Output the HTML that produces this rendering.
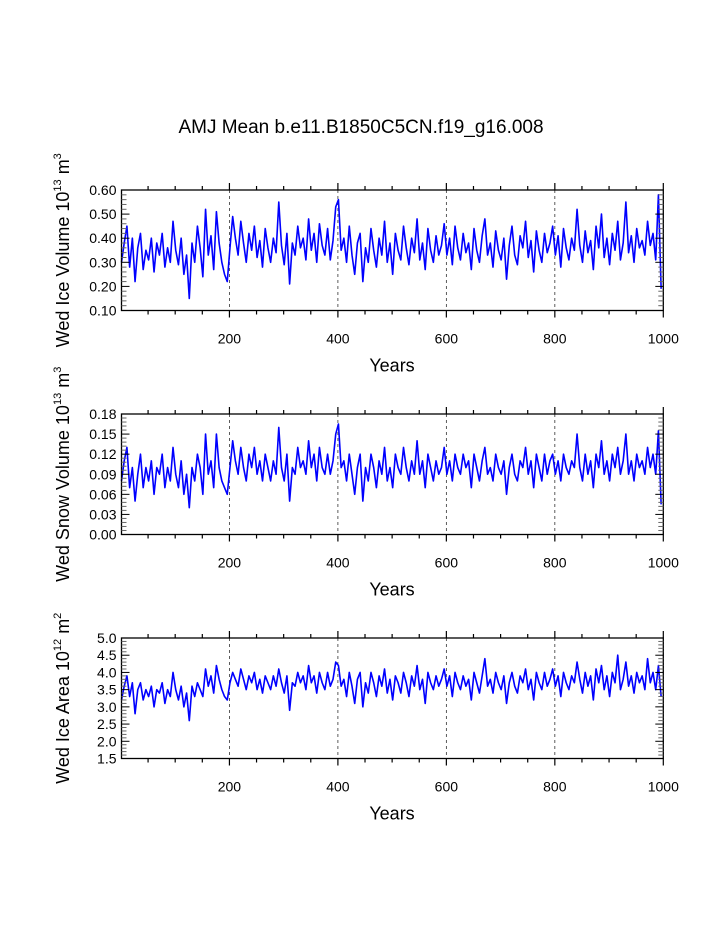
<!DOCTYPE html>
<html><head><meta charset="utf-8"><style>
html,body{margin:0;padding:0;background:#fff;}
svg{display:block;font-family:"Liberation Sans",Arial,sans-serif;}
</style></head><body>
<svg id="chart" width="723" height="935" viewBox="0 0 723 935" xmlns="http://www.w3.org/2000/svg">
<text x="361" y="133" font-size="19" text-anchor="middle">AMJ Mean b.e11.B1850C5CN.f19_g16.008</text>
</svg>
<script>
const iceVolume=[0.30,0.38,0.45,0.28,0.40,0.22,0.36,0.42,0.27,0.35,0.31,0.40,0.26,0.38,0.33,0.42,0.28,0.36,0.30,0.47,0.35,0.29,0.40,0.25,0.33,0.15,0.38,0.30,0.45,0.36,0.24,0.52,0.33,0.41,0.27,0.51,0.38,0.30,0.25,0.22,
0.36,0.49,0.40,0.33,0.47,0.38,0.30,0.42,0.35,0.45,0.32,0.39,0.28,0.44,0.36,0.30,0.40,0.34,0.55,0.37,0.29,0.42,0.21,0.38,0.33,0.45,0.36,0.40,0.31,0.48,0.35,0.42,0.30,0.46,0.37,0.33,0.44,0.31,0.39,0.53,
0.56,0.35,0.40,0.30,0.45,0.33,0.25,0.38,0.42,0.22,0.36,0.30,0.44,0.35,0.28,0.40,0.33,0.47,0.30,0.38,0.25,0.42,0.35,0.31,0.45,0.36,0.29,0.40,0.34,0.48,0.31,0.38,0.27,0.44,0.35,0.30,0.41,0.33,0.37,0.46,
0.33,0.40,0.29,0.45,0.36,0.31,0.42,0.34,0.38,0.27,0.44,0.35,0.30,0.41,0.48,0.33,0.38,0.28,0.43,0.35,0.31,0.40,0.23,0.37,0.45,0.33,0.29,0.41,0.36,0.47,0.32,0.39,0.26,0.43,0.35,0.30,0.42,0.34,0.38,0.45,
0.33,0.41,0.28,0.44,0.36,0.31,0.40,0.35,0.52,0.37,0.30,0.43,0.34,0.39,0.27,0.45,0.36,0.50,0.32,0.40,0.29,0.42,0.35,0.47,0.31,0.38,0.55,0.34,0.41,0.30,0.44,0.36,0.39,0.33,0.47,0.37,0.42,0.31,0.58,0.19];
const snowVolume=[0.08,0.11,0.13,0.07,0.10,0.05,0.09,0.12,0.07,0.10,0.08,0.11,0.06,0.10,0.09,0.12,0.07,0.10,0.08,0.13,0.09,0.07,0.11,0.06,0.09,0.04,0.10,0.08,0.12,0.10,0.06,0.15,0.09,0.11,0.07,0.15,0.10,0.08,0.07,0.06,
0.10,0.14,0.11,0.09,0.13,0.10,0.08,0.12,0.10,0.13,0.09,0.11,0.08,0.12,0.10,0.08,0.11,0.09,0.16,0.10,0.08,0.12,0.05,0.10,0.09,0.13,0.10,0.11,0.09,0.14,0.10,0.12,0.08,0.13,0.10,0.09,0.12,0.09,0.11,0.15,
0.165,0.10,0.11,0.08,0.12,0.09,0.06,0.10,0.12,0.05,0.10,0.08,0.12,0.10,0.07,0.11,0.09,0.13,0.08,0.10,0.07,0.12,0.10,0.09,0.13,0.10,0.08,0.11,0.09,0.14,0.09,0.11,0.07,0.12,0.10,0.08,0.11,0.09,0.10,0.13,
0.09,0.11,0.08,0.12,0.10,0.09,0.12,0.10,0.11,0.07,0.12,0.10,0.08,0.11,0.13,0.09,0.10,0.08,0.12,0.10,0.09,0.11,0.06,0.10,0.12,0.09,0.08,0.11,0.10,0.13,0.09,0.11,0.07,0.12,0.10,0.08,0.12,0.09,0.11,0.12,
0.09,0.11,0.08,0.12,0.10,0.09,0.11,0.10,0.15,0.10,0.08,0.12,0.09,0.11,0.07,0.12,0.10,0.14,0.09,0.11,0.08,0.12,0.10,0.13,0.09,0.11,0.15,0.09,0.11,0.08,0.12,0.10,0.11,0.09,0.13,0.10,0.12,0.09,0.155,0.045];
const iceArea=[3.2,3.6,3.9,3.3,3.7,2.8,3.5,3.7,3.2,3.5,3.3,3.6,3.0,3.5,3.4,3.7,3.1,3.5,3.3,4.0,3.5,3.2,3.6,3.0,3.4,2.6,3.6,3.3,3.7,3.5,3.3,4.1,3.6,3.9,3.4,4.2,3.8,3.5,3.3,3.2,
3.7,4.0,3.8,3.6,4.1,3.8,3.5,3.9,3.7,4.0,3.5,3.8,3.4,3.9,3.7,3.5,3.9,3.6,4.1,3.7,3.4,3.9,2.9,3.7,3.6,4.0,3.7,3.9,3.5,4.2,3.7,3.9,3.4,4.0,3.7,3.5,4.0,3.6,3.8,4.3,
4.2,3.6,3.8,3.3,4.0,3.6,3.1,3.8,4.0,3.0,3.7,3.4,4.0,3.7,3.3,3.9,3.6,4.1,3.4,3.8,3.2,3.9,3.7,3.4,4.0,3.7,3.3,3.9,3.6,4.2,3.5,3.8,3.1,4.0,3.7,3.5,3.9,3.6,3.8,4.1,
3.6,3.9,3.3,4.0,3.7,3.5,3.9,3.6,3.8,3.2,4.0,3.7,3.4,3.9,4.4,3.6,3.8,3.4,4.0,3.7,3.5,3.9,3.1,3.7,4.0,3.6,3.4,3.9,3.7,4.1,3.5,3.8,3.2,4.0,3.7,3.5,4.0,3.6,3.8,4.1,
3.6,3.9,3.3,4.0,3.7,3.5,3.9,3.7,4.3,3.8,3.4,4.0,3.6,3.9,3.2,4.1,3.7,4.2,3.5,3.9,3.3,4.0,3.7,4.5,3.5,3.8,4.3,3.6,3.9,3.4,4.0,3.7,3.9,3.5,4.4,3.7,4.0,3.5,4.2,3.3];
const xTicks=[200,400,600,800,1000];
const yTicks1=["0.10","0.20","0.30","0.40","0.50","0.60"];
const yTicks2=["0.00","0.03","0.06","0.09","0.12","0.15","0.18"];
const yTicks3=["1.5","2.0","2.5","3.0","3.5","4.0","4.5","5.0"];

const NS="http://www.w3.org/2000/svg";
const svg=document.getElementById('chart');
const X0=121.5,X1=663.3,Y0=1,Y1000=1000;
function xs(v){return X0+(v-Y0)/(Y1000-Y0)*(X1-X0);}
function mk(tag,attrs,parent){const e=document.createElementNS(NS,tag);for(const k in attrs)e.setAttribute(k,attrs[k]);(parent||svg).appendChild(e);return e;}

function panel(name,top,bot,vals,ticks,minorStep,titleMain,exp,unit,unitExp){
  const g=mk('g',{});
  
  
  const lo=parseFloat(ticks[0]),hi=parseFloat(ticks[ticks.length-1]);
  const ys=v=>bot-(v-lo)/(hi-lo)*(bot-top);
  for(const t of [200,400,600,800]){
    const l=mk('line',{x1:xs(t),x2:xs(t),y1:top,y2:bot,stroke:'#333','stroke-width':0.8,'stroke-dasharray':'3,3'},g);
    
    
  }
  let d='';
  vals.forEach((v,i)=>{const yr=1+i*5;d+=(i?'L':'M')+xs(yr).toFixed(2)+','+ys(v).toFixed(2);});
  const p=mk('path',{d:d,fill:'none',stroke:'#0000ff','stroke-width':1.6,'stroke-linejoin':'round'},g);
  
  
  const r=mk('rect',{x:X0,y:top,width:X1-X0,height:bot-top,fill:'none',stroke:'#000','stroke-width':1.3},g);
  
  
  for(let t=50;t<=1000;t+=50){
    const major=t%200===0, len=major?7:4;
    mk('line',{x1:xs(t),x2:xs(t),y1:bot,y2:bot+len,stroke:'#000','stroke-width':1.2},g);
    mk('line',{x1:xs(t),x2:xs(t),y1:top,y2:top-len,stroke:'#000','stroke-width':1.2},g);
  }
  xTicks.forEach(t=>{
    const tx=mk('text',{x:xs(t),y:bot+33,'font-size':14,'text-anchor':'middle'},g);
    tx.textContent=String(t);
    
    
  });
  const xt=mk('text',{x:392,y:bot+61,'font-size':18,'text-anchor':'middle'},g);
  xt.textContent='Years';
  
  
  const n=Math.round((hi-lo)/minorStep);
  for(let i=0;i<=n;i++){
    const v=lo+i*minorStep;const y=ys(v);
    const major=i%Math.round((parseFloat(ticks[1])-lo)/minorStep)===0;
    const len=major?8:5;
    mk('line',{x1:X0,x2:X0+len,y1:y,y2:y,stroke:major?'#000':'#666','stroke-width':1},g);
    mk('line',{x1:X1,x2:X1-len,y1:y,y2:y,stroke:major?'#000':'#666','stroke-width':1},g);
  }
  ticks.forEach(t=>{
    const tx=mk('text',{x:X0-5,y:ys(parseFloat(t))+5,'font-size':14,'text-anchor':'end'},g);
    tx.textContent=t;
    
    
  });
  const cy=(top+bot)/2;
  const yt=mk('text',{x:0,y:0,'font-size':18,'text-anchor':'middle',transform:'translate(69,'+cy+') rotate(-90)'},g);
  
  
  const a=mk('tspan',{},yt);a.textContent=titleMain+' 10';
  const b=mk('tspan',{'font-size':11,dy:-8},yt);b.textContent=exp;
  const c=mk('tspan',{dy:8},yt);c.textContent=' '+unit;
  const e=mk('tspan',{'font-size':11,dy:-8},yt);e.textContent=unitExp;
}
panel('ice-volume',190,310.5,iceVolume,yTicks1,0.02,'Wed Ice Volume','13','m','3');
panel('snow-volume',414,534.5,snowVolume,yTicks2,0.006,'Wed Snow Volume','13','m','3');
panel('ice-area',638,758.5,iceArea,yTicks3,0.1,'Wed Ice Area','12','m','2');
</script>
</body></html>
